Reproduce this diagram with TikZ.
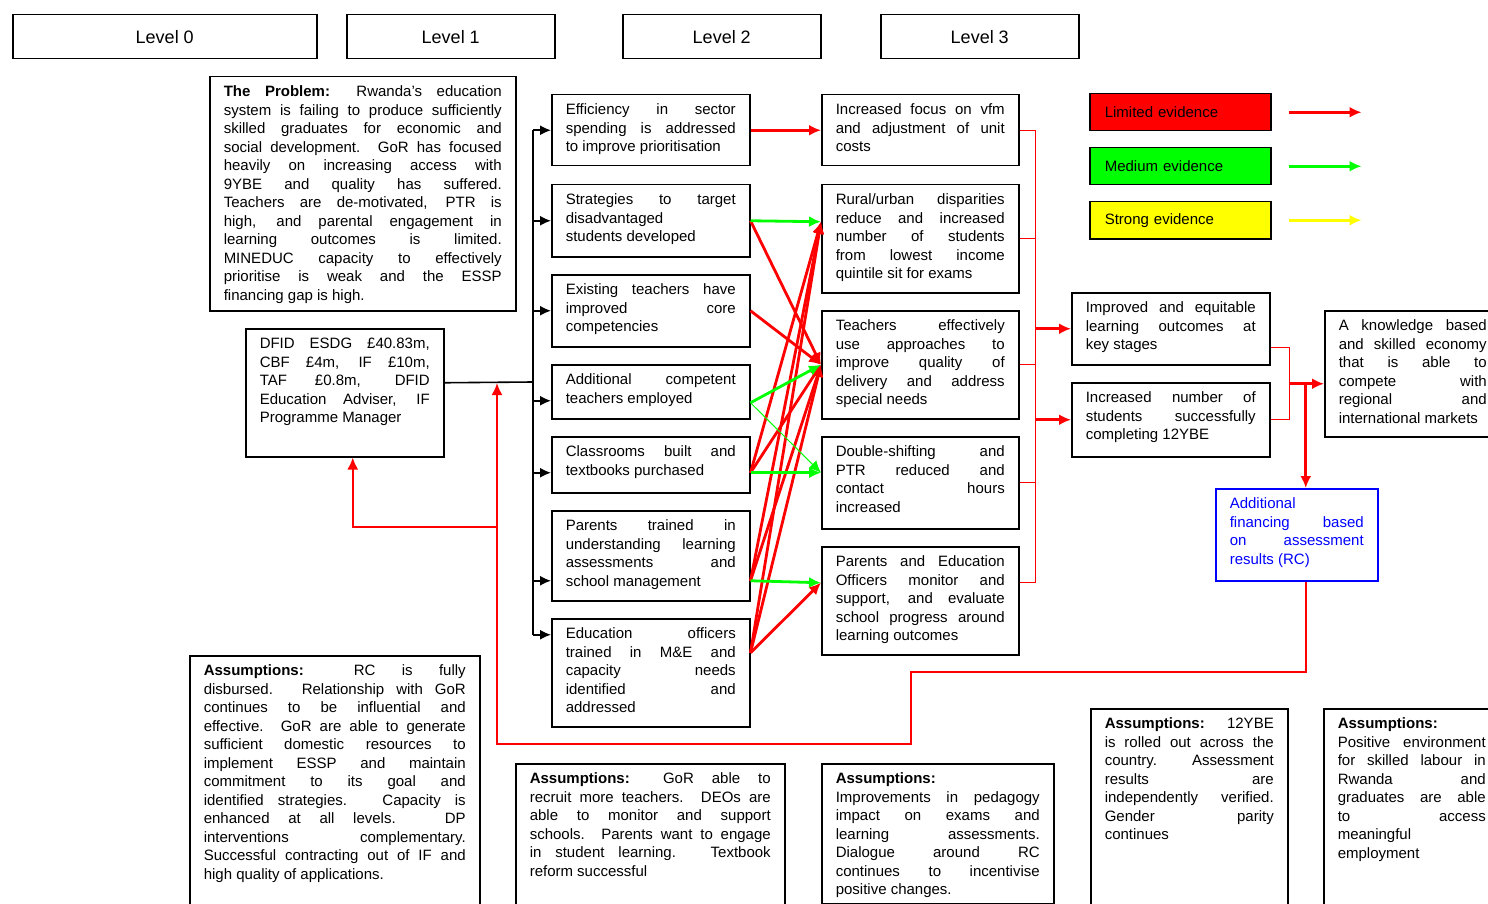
\documentclass[tikz,border=0pt]{standalone}
\usepackage{fontspec}
\setmainfont{Liberation Sans}
\usetikzlibrary{arrows.meta}
\definecolor{evred}{HTML}{FF0000}
\definecolor{evgreen}{HTML}{00FF00}
\definecolor{evyellow}{HTML}{FFFF00}
\definecolor{rcblue}{HTML}{0000FF}
\newcommand{\celltext}[3]{\parbox[c][\dimexpr#2pt-14pt\relax][t]{\dimexpr#1pt-28pt\relax}{\tolerance=9999\hbadness=10000\hyphenpenalty=10000\exhyphenpenalty=10000\strut#3}}

\begin{document}
\begin{tikzpicture}[x=1pt, y=-1pt,
  cellbox/.style={draw, line width=1.5pt, anchor=north west, inner xsep=14pt, inner ysep=7pt, font=\fontsize{15}{18.5}\selectfont},
  lvlbox/.style={draw, line width=1.5pt, anchor=north west, minimum height=44pt, inner sep=0pt, font=\fontsize{18}{22}\selectfont},
  keybox/.style={draw, line width=1.5pt, anchor=north west, text width=151pt, minimum height=37pt, inner xsep=15pt, inner ysep=0pt, align=left, font=\fontsize{15}{18}\selectfont},
  busline/.style={line width=1.6pt},
  feed/.style={line width=1.6pt, -{Latex[length=11pt,width=10pt]}},
  redarrow/.style={evred, line width=2.8pt, -{Latex[length=12pt,width=11pt]}},
  greenarrow/.style={evgreen, line width=2.8pt, -{Latex[length=12pt,width=11pt]}},
  yellowarrow/.style={evyellow, line width=2.8pt, -{Latex[length=12pt,width=11pt]}},
  thingreen/.style={evgreen, line width=1pt, -{Latex[length=12pt,width=11pt]}},
  redlink/.style={evred, line width=1.3pt},
  fback/.style={evred, line width=2pt, -{Latex[length=12pt,width=11pt]}}]
  \useasboundingbox (0,0) rectangle (1488,904);
  \clip (0,0) rectangle (1488,904);

  % Niveaux
  \node[lvlbox, minimum width=304pt] (lev0) at (12,14) {Level 0};
  \node[lvlbox, minimum width=208pt] (lev1) at (346,14) {Level 1};
  \node[lvlbox, minimum width=198pt] (lev2) at (622,14) {Level 2};
  \node[lvlbox, minimum width=198pt] (lev3) at (880,14) {Level 3};

  % Niveau 0 et 1
  \node[cellbox] (problem) at (209,76) {\celltext{306}{234}{\textbf{The Problem:} Rwanda's education\linebreak
    system is failing to produce sufficiently\linebreak skilled graduates for economic and\linebreak
    social development. GoR has focused\linebreak heavily on increasing access with\linebreak
    9YBE and quality has suffered.\linebreak Teachers are de-motivated, PTR is\linebreak
    high, and parental engagement in\linebreak learning outcomes is limited.\linebreak
    MINEDUC capacity to effectively\linebreak prioritise is weak and the ESSP\linebreak financing gap is high.}};
  \node[cellbox] (inputs) at (245,328) {\celltext{198}{128}{DFID ESDG £40.83m,\linebreak CBF £4m, IF £10m,\linebreak
    TAF £0.8m, DFID\linebreak Education Adviser, IF\linebreak Programme Manager}};

  % Niveau 2
  \node[cellbox] (eff) at (551,94) {\celltext{198}{71}{Efficiency in sector\linebreak spending is addressed\linebreak to improve prioritisation}};
  \node[cellbox] (strat) at (551,184) {\celltext{198}{72}{Strategies to target\linebreak disadvantaged\newline students developed}};
  \node[cellbox] (exist) at (551,274) {\celltext{198}{72}{Existing teachers have\linebreak improved core\linebreak competencies}};
  \node[cellbox] (addt) at (551,364) {\celltext{198}{54}{Additional competent\linebreak teachers employed}};
  \node[cellbox] (class) at (551,436) {\celltext{198}{56}{Classrooms built and\linebreak textbooks purchased}};
  \node[cellbox] (parent) at (551,510) {\celltext{198}{90}{Parents trained in\linebreak understanding learning\linebreak assessments and\linebreak school management}};
  \node[cellbox] (eduoff) at (551,618) {\celltext{198}{108}{Education officers\linebreak trained in M\&E and\linebreak capacity needs\linebreak identified and\linebreak addressed}};

  % Niveau 3
  \node[cellbox] (vfm) at (821,94) {\celltext{197}{71}{Increased focus on vfm\linebreak and adjustment of unit\linebreak costs}};
  \node[cellbox] (rural) at (821,184) {\celltext{197}{108}{Rural/urban disparities\linebreak reduce and increased\linebreak number of students\linebreak from lowest income\linebreak quintile sit for exams}};
  \node[cellbox] (teach) at (821,310) {\celltext{197}{108}{Teachers effectively\linebreak use approaches to\linebreak improve quality of\linebreak delivery and address\linebreak special needs}};
  \node[cellbox] (shift) at (821,436) {\celltext{197}{92}{Double-shifting and\linebreak PTR reduced and\linebreak contact hours\linebreak increased}};
  \node[cellbox] (monitor) at (821,546) {\celltext{197}{108}{Parents and Education\linebreak Officers monitor and\linebreak support, and evaluate\linebreak school progress around\linebreak learning outcomes}};

  % Résultats
  \node[cellbox] (outcome) at (1071,292) {\celltext{198}{72}{Improved and equitable\linebreak learning outcomes at\linebreak key stages}};
  \node[cellbox] (complete) at (1071,382) {\celltext{198}{74}{Increased number of\linebreak students successfully\linebreak completing 12YBE}};
  \node[cellbox] (economy) at (1324,310) {\celltext{176}{126}{A knowledge based\linebreak and skilled economy\linebreak that is able to\linebreak compete with\linebreak regional and\linebreak international markets}};
  \node[cellbox, draw=rcblue, text=rcblue] (finance) at (1215,488) {\celltext{162}{92}{Additional\newline financing based\linebreak on assessment\linebreak results (RC)}};

  % Légende
  \node[keybox, fill=evred] (keyred) at (1089,93) {Limited evidence};
  \node[keybox, fill=evgreen] (keygreen) at (1089,147) {Medium evidence};
  \node[keybox, fill=evyellow] (keyyellow) at (1089,201) {Strong evidence};
  \draw[redarrow] ([xshift=17pt]keyred.east) -- ++(73,0);
  \draw[greenarrow] ([xshift=17pt]keygreen.east) -- ++(73,0);
  \draw[yellowarrow] ([xshift=17pt]keyyellow.east) -- ++(73,0);

  % Hypothèses
  \node[cellbox] (asm0) at (189,655) {\celltext{290}{270}{\textbf{Assumptions:} RC is fully\linebreak
    disbursed. Relationship with GoR\linebreak continues to be influential and\linebreak
    effective. GoR are able to generate\linebreak sufficient domestic resources to\linebreak
    implement ESSP and maintain\linebreak commitment to its goal and\linebreak
    identified strategies. Capacity is\linebreak enhanced at all levels. DP\linebreak
    interventions complementary.\linebreak Successful contracting out of IF and\linebreak
    high quality of applications.}};
  \node[cellbox] (asm1) at (515,763) {\celltext{269}{160}{\textbf{Assumptions:} GoR able to\linebreak
    recruit more teachers. DEOs are\linebreak able to monitor and support\linebreak
    schools. Parents want to engage\linebreak in student learning. Textbook\linebreak reform successful}};
  \node[cellbox] (asm2) at (821,763) {\celltext{232}{140}{\textbf{Assumptions:}\newline
    Improvements in pedagogy\linebreak impact on exams and\linebreak learning assessments.\linebreak
    Dialogue around RC\linebreak continues to incentivise\linebreak positive changes.}};
  \node[cellbox] (asm3) at (1090,708) {\celltext{197}{215}{\textbf{Assumptions:} 12YBE\linebreak
    is rolled out across the\linebreak country. Assessment\linebreak results are\linebreak
    independently verified.\linebreak Gender parity\linebreak continues}};
  \node[cellbox] (asm4) at (1323,708) {\celltext{176}{215}{\textbf{Assumptions:}\newline
    Positive environment\linebreak for skilled labour in\linebreak Rwanda and\linebreak
    graduates are able\linebreak to access\linebreak meaningful\newline employment}};

  % Apports vers le niveau 2
  \coordinate (bus) at (533,382);
  \coordinate (join) at (497,383);
  \draw[busline] ([yshift=10pt]inputs.east) -- (bus);
  \foreach \n/\dy in {eff/0, strat/0, exist/0, addt/-9, class/-8, parent/-25, eduoff/38} {
    \coordinate (\n-in) at ([yshift=\dy pt]\n.west);
    \draw[feed] (bus |- \n-in) -- (\n-in);
  }
  \draw[busline] (bus |- eff-in) -- (bus |- eduoff-in);

  % Niveau 2 vers niveau 3
  \coordinate (addt-out) at ([yshift=-11pt]addt.east);
  \coordinate (class-out) at ([yshift=-8pt]class.east);
  \coordinate (parent-out) at ([yshift=-25pt]parent.east);
  \coordinate (eduoff-out) at ([yshift=20pt]eduoff.east);
  \coordinate (rural-in) at ([yshift=17pt]rural.west);
  \coordinate (shift-in) at ([yshift=10pt]shift.west);
  \coordinate (monitor-in) at ([yshift=18pt]monitor.west);
  \draw[redarrow] (eff.east) -- (vfm.west);
  \draw[redarrow] (strat.east) -- (teach.west);
  \draw[redarrow] (exist.east) -- (teach.west);
  \draw[redarrow] (class-out) -- (rural-in);
  \draw[redarrow] (class-out) -- (teach.west);
  \draw[redarrow] (parent-out) -- (rural-in);
  \draw[redarrow] (parent-out) -- (teach.west);
  \draw[redarrow] (eduoff-out) -- (rural-in);
  \draw[redarrow] (eduoff-out) -- (teach.west);
  \draw[redarrow] (eduoff-out) -- (monitor-in);
  \draw[greenarrow] (strat.east) -- (rural-in);
  \draw[greenarrow] (addt-out) -- (teach.west);
  \draw[thingreen] (addt-out) -- (shift-in);
  \draw[greenarrow] (class-out) -- (shift-in);
  \draw[greenarrow] (parent-out) -- (monitor-in);

  % Niveau 3 vers résultats
  \coordinate (rbus) at ([xshift=16pt]vfm.east);
  \coordinate (monitor-out) at ([yshift=18pt]monitor.east);
  \foreach \n in {vfm, rural, teach, shift} \draw[redlink] (\n.east) -- (rbus |- \n.east);
  \draw[redlink] (monitor-out) -- (rbus |- monitor-out);
  \draw[redlink] (rbus |- vfm.east) -- (rbus |- monitor-out);
  \draw[redarrow] (rbus |- outcome.west) -- (outcome.west);
  \draw[redarrow] (rbus |- complete.west) -- (complete.west);

  % Vers l'impact
  \coordinate (outcome-out) at ([yshift=-19pt]outcome.east);
  \coordinate (jbus) at ([xshift=19pt]outcome.east);
  \coordinate (economy-in) at ([yshift=-10pt]economy.west);
  \coordinate (finance-in) at ([xshift=9pt]finance.north);
  \coordinate (finance-out) at ([xshift=9pt]finance.south);
  \coordinate (inputs-in) at ([xshift=8pt]inputs.south);
  \draw[redlink] (outcome-out) -| (jbus |- complete.east) -- (complete.east);
  \draw[redarrow] (jbus |- economy-in) -- (economy-in);
  \draw[redarrow] (finance-in |- economy-in) -- (finance-in);

  % Retour du financement
  \draw[fback] (finance-out) |- (911,672) -- (911,744) -| (join);
  \draw[fback] (join |- 0,527) -| (inputs-in);
\end{tikzpicture}
\end{document}
